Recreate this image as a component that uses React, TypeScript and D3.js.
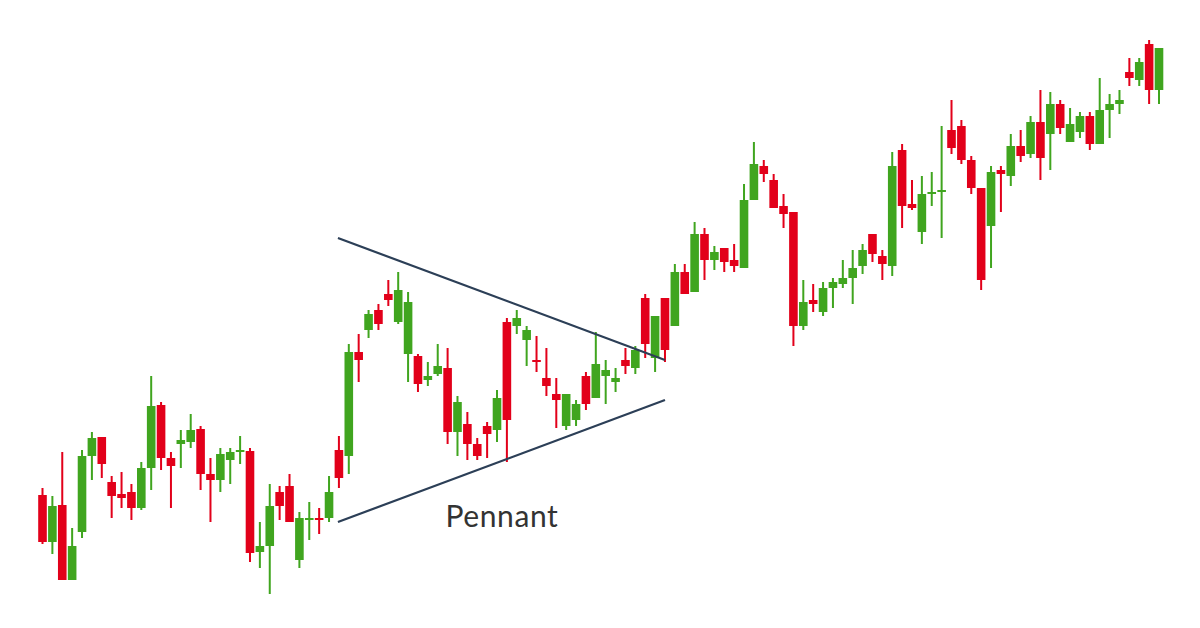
import React from "react";
import * as d3 from "d3";

// Daily candles, in price units: open, high, low, close
const opens = [
  36.25, 24.5, 33.75, 15, 27, 46, 50.75, 39.5, 36.5, 37, 33, 43, 58.75, 45.5, 49, 49.5, 52.75, 41.5, 40, 45,
  47, 47.25, 22, 23.5, 37, 38.5, 20, 30, 30.5, 30.5, 47.5, 46, 72, 77.5, 82.5, 86.5, 79.5, 71.5, 71, 65,
  66.5, 68, 52, 54, 49, 53.5, 52.5, 79.5, 78.5, 75, 70, 65.5, 61.5, 53.5, 55, 66, 60.5, 66, 64.5, 70,
  68, 85.5, 70.5, 85.5, 78.5, 92, 87, 101.5, 95, 98, 95, 93, 110, 118.5, 115, 108.5, 107, 78.5, 85, 82,
  88, 89, 90.5, 93.5, 101.5, 96, 93.5, 122.5, 109, 102, 111.5, 112, 127.5, 128.5, 120, 113, 103.5, 117.5, 116, 123.5,
  121.5, 129.5, 126.5, 134, 124.5, 127, 131, 124, 132.5, 134, 142, 140, 149, 137.5,
];
const highs = [
  38, 36, 47, 28, 47.5, 52, 50.75, 41, 42, 39, 44.5, 66, 59.5, 47, 52.5, 56.5, 53.5, 45.5, 48, 48,
  51, 48, 29.5, 39, 38.5, 41.5, 32, 34.5, 33, 41, 51, 74, 76.5, 82.5, 84, 90, 92, 87, 71.5, 69.5,
  74, 73, 61, 57, 50.5, 54.5, 62.5, 80.5, 82.5, 78.5, 76, 73, 65.5, 61.5, 60, 67, 77, 70, 68, 73,
  73.5, 86.5, 81, 85.5, 94, 94, 104.5, 103, 98.5, 98, 99, 114, 124.5, 120, 116.5, 111.5, 107, 90, 89, 89.5,
  90.5, 95, 97.5, 99, 101.5, 97.5, 122, 124, 115, 116, 117, 128.5, 135, 130, 121, 113, 118.5, 118.5, 126.5, 127.5,
  131, 137.5, 137, 135, 133, 132, 132, 140.5, 136.5, 137.5, 145.5, 145.5, 150, 148,
];
const lows = [
  24, 21.5, 15, 15, 25.5, 40, 40.5, 30.5, 33, 30, 32.5, 37.5, 42.5, 33, 43, 48, 37.5, 29.5, 37, 39,
  44, 19.5, 18, 11.5, 30, 29.5, 18, 25, 26.5, 29.5, 38, 41.5, 64.5, 75.5, 77.5, 83.5, 79, 64.5, 62, 63.5,
  66, 49, 46, 45, 45, 45.5, 49.5, 44.5, 76.5, 68.5, 67, 61, 53, 52.5, 53.5, 57.5, 60.5, 59, 62, 66.5,
  66.5, 70.5, 67, 69.5, 78.5, 86.5, 87, 90, 92.5, 92, 92, 93, 110, 114.5, 108, 103, 73.5, 77.5, 82, 81,
  83, 88, 84, 91.5, 94.5, 90, 91, 103, 107.5, 99, 108.5, 100.5, 121.5, 119, 111.5, 87.5, 93, 107, 113.5, 119.5,
  120.5, 115, 117.5, 126.5, 124.5, 125.5, 122.5, 124, 125.5, 131.5, 138.5, 138.5, 134, 134,
];
const closes = [
  24.5, 33.5, 15, 23.5, 46, 50.5, 44, 36, 35.5, 33, 43, 58.5, 45.5, 43.5, 50, 52.5, 41.5, 40, 46.5, 47,
  47.5, 21.75, 23.5, 33.5, 33.5, 29.5, 30.5, 30.5, 30, 37, 40.5, 72, 70, 81.5, 79, 85, 87.5, 84.5, 64, 66,
  68.5, 52, 59.5, 49, 46, 51.5, 60.5, 55, 80.5, 77.5, 69.5, 63.5, 60, 61.5, 59, 59, 69, 67.5, 65.5, 68.5,
  72.5, 74, 81, 72.5, 92, 86.5, 101.5, 95, 97, 94.5, 93.5, 110, 119, 116.5, 108, 106.5, 78.5, 84.5, 84, 88,
  89.5, 90.5, 93, 97.5, 96.5, 94, 118.5, 108.5, 108, 111.5, 112, 112.5, 123, 120, 113, 90, 117, 116.5, 123.5, 121,
  129.5, 120.5, 134, 128, 129, 131, 124, 132.5, 134, 135, 140.5, 144.5, 137.5, 148,
];

// Pennant boundaries: [candle index, price] at each end
const upperLine: [number, number][] = [[29.9, 100.5], [63, 70]];
const lowerLine: [number, number][] = [[29.9, 29.5], [63, 60]];
const patternLabel = "Pennant";
const labelAt: [number, number] = [46.5, 28.25];

const UP = "#40a51f";
const DOWN = "#e2001a";
const LINE = "#2c3f57";

export default function App() {
  const width = 1200;
  const height = 628;
  const n = opens.length;

  const x = d3.scaleLinear().domain([0, n - 1]).range([42.5, 1159]);
  const y = d3.scaleLinear().domain([10, 150]).range([600, 40]);
  const bodyW = 8.6;
  const wickW = 2;

  const line = d3
    .line<[number, number]>()
    .x((d) => x(d[0]))
    .y((d) => y(d[1]));

  const candles = d3.range(n).map((i) => {
    const o = opens[i];
    const c = closes[i];
    const up = c >= o;
    const top = y(Math.max(o, c));
    const bottom = y(Math.min(o, c));
    const h = Math.max(2, bottom - top);
    return { i, up, top, h, hi: y(highs[i]), lo: y(lows[i]) };
  });

  return (
    <svg
      width={width}
      height={height}
      style={{ position: "absolute", left: 0, top: 0, display: "block", background: "#fff" }}
    >
      <rect width={width} height={height} fill="#fff" />
      <g>
        {candles.map((d) => {
          const cx = x(d.i);
          const col = d.up ? UP : DOWN;
          return (
            <g key={d.i} fill={col}>
              <rect x={cx - wickW / 2} y={d.hi} width={wickW} height={Math.max(0, d.lo - d.hi)} />
              <rect x={cx - bodyW / 2} y={d.top} width={bodyW} height={d.h} />
            </g>
          );
        })}
      </g>
      <path d={line(upperLine) || ""} stroke={LINE} strokeWidth={2.2} fill="none" />
      <path d={line(lowerLine) || ""} stroke={LINE} strokeWidth={2.2} fill="none" />
      <text
        x={x(labelAt[0])}
        y={y(labelAt[1])}
        textAnchor="middle"
        fontFamily="Lato, 'Open Sans', sans-serif"
        fontSize={30}
        letterSpacing={0.6}
        fill="#333"
      >
        {patternLabel}
      </text>
    </svg>
  );
}
